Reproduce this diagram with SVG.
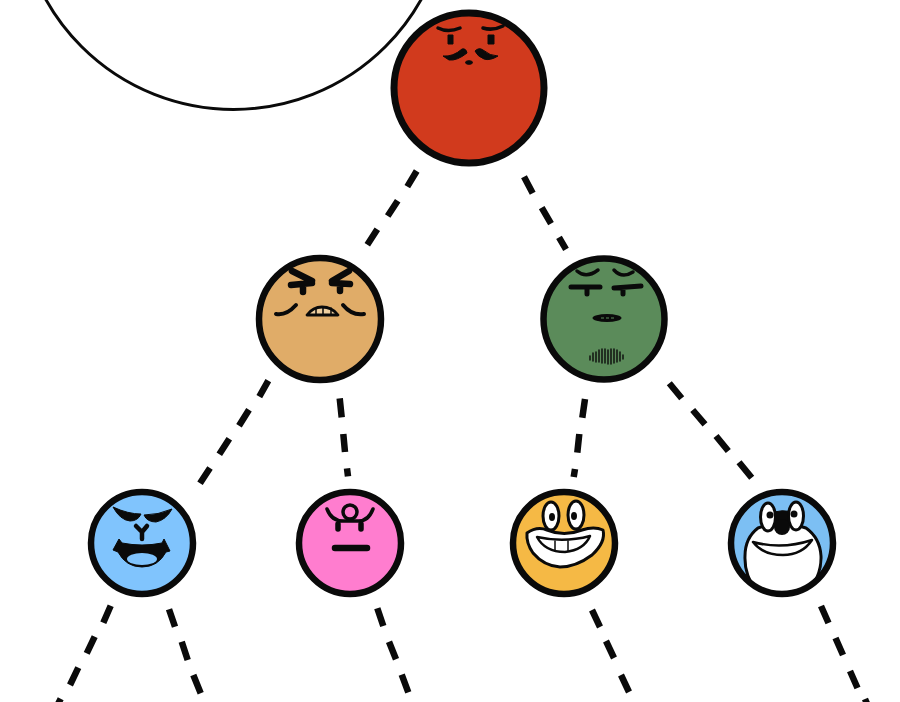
<svg xmlns="http://www.w3.org/2000/svg" width="900" height="702" viewBox="0 0 900 702">
<style>
.ink{fill:none;stroke:#0a0a0a;stroke-linecap:round;stroke-linejoin:round}
.solid{fill:#0a0a0a;stroke:#0a0a0a;stroke-linejoin:round;stroke-width:1}
.rim{stroke:#0a0a0a;stroke-width:6.500}
.eye{fill:#fff;stroke:#0a0a0a;stroke-width:3}
#connectors path{stroke:#0a0a0a;stroke-width:6.500;fill:none}
</style>
<defs>
<clipPath id="bodyClip"><circle cx="782" cy="543" r="50"/></clipPath>
</defs>
<rect width="900" height="702" fill="#fff"/>
<circle id="outline-circle" cx="233.500" cy="-105.500" r="215" fill="#fff" stroke="#0a0a0a" stroke-width="3"/>

<g id="connectors">
<path d="M416.700 171L407.300 186.700M397.700 200.700L387.700 216M377.300 229.300L367.300 244.700"/>
<path d="M524 176.700L532.700 193.300M541.700 207.700L551 223.700M559 237.300L566 249.300"/>
<path d="M268.300 380.700L259.300 396.700M249 409.700L239 425.700M229.300 438.700L219.300 454.300M210 468L200 483.300"/>
<path d="M339.700 398.300L341.700 417.300M343.300 434L345 452M347 468.300L348 476.300"/>
<path d="M585 399L582.300 417.700M579.300 434L577.300 452.700M575 469L573.700 477"/>
<path d="M669.300 383.300L681.700 398.300M692.700 410L705 424.300M716 436L728.300 451M739 462.300L751.700 477.700"/>
<path d="M110.700 605.700L103.300 622.700M94.700 636.700L86.700 653.300M78.300 667.700L70 685M60.700 698.700L55 710"/>
<path d="M169 609.300L175 626.700M181.700 641.700L187.700 660M193.300 675L200.700 693.300"/>
<path d="M377.300 608.300L383.300 626M389 641.700L396 659.300M401.700 674.700L408.300 692.300"/>
<path d="M592 610L600 627M606 641L614 658M621 675L629 692"/>
<path d="M821 606L828.500 623M835.500 638L843 655M850 671L857.500 688M865 699L868 706"/>
</g>

<g id="node-red">
<circle class="rim" cx="469" cy="88" r="75" fill="#d13a1d" style="stroke-width:7"/>
<path class="ink" stroke-width="3.500" d="M438 28Q448 33 460 28M483 28Q493 31 503 26"/>
<rect class="solid" x="448" y="35" width="5" height="9"/>
<rect class="solid" x="488" y="35" width="6" height="9"/>
<path class="solid" d="M443 56Q453 57 462 49Q466 48 467 53Q457 61 449 60Z"/>
<path class="solid" d="M475 51Q479 47 483 50Q490 56 498 56Q490 61 484 59Q477 56 475 51Z"/>
<ellipse class="solid" cx="469" cy="62.500" rx="3.500" ry="1.800"/>
</g>

<g id="node-tan">
<circle class="rim" cx="320" cy="319" r="61" style="stroke-width:6.500" fill="#e0ac68"/>
<path class="ink" stroke-width="6.500" d="M292 271L312 281M291 285L312 283M303 285V292"/>
<path class="ink" stroke-width="6.500" d="M349 271L332 281M332 283L350 284M340 285V291"/>
<path class="ink" stroke-width="4" d="M276 314Q286 316 296 305M343 305Q352 316 364 314"/>
<path d="M307 315Q313 307 322 307Q332 307 338 315Z" fill="#efcf9f" stroke="#0a0a0a" stroke-width="2.800" stroke-linejoin="round"/>
<path class="ink" stroke-width="1.500" d="M316 308V314M323 308V314M331 308V314"/>
</g>

<g id="node-green">
<circle class="rim" cx="604" cy="319" r="60.500" fill="#5b8b5a"/>
<path class="ink" stroke-width="3.500" d="M577 271Q586 279 598 270M614 270Q622 279 633 272"/>
<path class="ink" stroke-width="5" d="M571 287H600M587 288V294M614 288L641 286M623 288V294"/>
<ellipse cx="607" cy="318" rx="14.500" ry="4" fill="#0a0a0a"/>
<path d="M601 318H614" stroke="#5b8b5a" stroke-width="1" stroke-dasharray="3 2"/>
<path class="ink" stroke-width="1.400" d="M590 356V360M593 353V361M596 352V362M599 350V362M602 349V363M605 349V363M608 350V364M611 349V364M614 349V363M617 350V362M620 352V361M623 355V359"/>
</g>

<g id="node-blue">
<circle class="rim" cx="142" cy="543" r="51" fill="#80c4fd"/>
<path class="solid" d="M113 507Q128 514 141 514Q138 521 130 521Q120 520 113 507Z"/>
<path class="solid" d="M172 509Q158 515 144 515Q147 522 156 522Q166 520 172 509Z"/>
<path class="ink" stroke-width="4.500" d="M136 526L142 532L147 526M142 532V539"/>
<path class="solid" d="M119 539L122 543Q142 547 162 543L164 539L170 551L166 552Q158 567 142 567Q126 567 118 552L113 550Z"/>
<ellipse cx="142" cy="559" rx="15" ry="6" fill="#80c4fd"/>
</g>

<g id="node-pink">
<circle class="rim" cx="350" cy="543" r="51" fill="#ff7dcf"/>
<circle class="ink" cx="350" cy="512" r="7" stroke-width="3.500"/>
<path class="ink" stroke-width="3.500" d="M327 509Q332 522 345 521H357Q368 522 373 509"/>
<path class="ink" stroke-width="5.500" d="M338 524V529M361 524V529"/>
<path class="ink" stroke-width="6.500" d="M335 548H367"/>
</g>

<g id="node-orange">
<circle class="rim" cx="564" cy="543" r="51" fill="#f5b945"/>
<path d="M527 533Q537 526 547 530Q564 537 582 530Q594 526 603 530Q606 542 592 555Q576 567 560 567Q544 566 533 553Q526 543 527 533Z" fill="#fff" stroke="#0a0a0a" stroke-width="3" stroke-linejoin="round"/>
<ellipse class="eye" cx="551" cy="516" rx="8" ry="14"/>
<ellipse class="eye" cx="576" cy="515" rx="8" ry="14"/>
<ellipse cx="552" cy="517" rx="3" ry="4" fill="#0a0a0a"/>
<ellipse cx="574" cy="516" rx="3" ry="4" fill="#0a0a0a"/>
<path class="ink" stroke-width="2.500" d="M537 537Q564 543 590 536Q584 550 565 552Q545 552 537 537Z"/>
<path class="ink" stroke-width="1.500" d="M555 541V551M568 541V551"/>
</g>

<g id="node-sky">
<circle cx="782" cy="543" r="50" fill="#7cbff3"/>
<g clip-path="url(#bodyClip)">
<path d="M758 528Q782 520 806 528Q820 538 821 556Q822 580 800 600H764Q744 580 745 556Q745 538 758 528Z" fill="#fff" stroke="#0a0a0a" stroke-width="3"/>
</g>
<circle class="rim" cx="782" cy="543" r="51" fill="none"/>
<path class="solid" d="M770 514Q782 508 794 513V524H770Z"/>
<ellipse class="eye" cx="768" cy="517" rx="7.500" ry="14"/>
<ellipse class="eye" cx="796" cy="516" rx="7.500" ry="14"/>
<circle cx="770" cy="515" r="3.500" fill="#0a0a0a"/>
<circle cx="794" cy="514" r="3.500" fill="#0a0a0a"/>
<circle cx="782" cy="527" r="8" fill="#0a0a0a"/>
<path class="ink" stroke-width="2.500" style="fill:#fff" d="M753 542Q782 550 812 540Q802 555 783 555Q763 555 753 542Z"/>
</g>
</svg>
